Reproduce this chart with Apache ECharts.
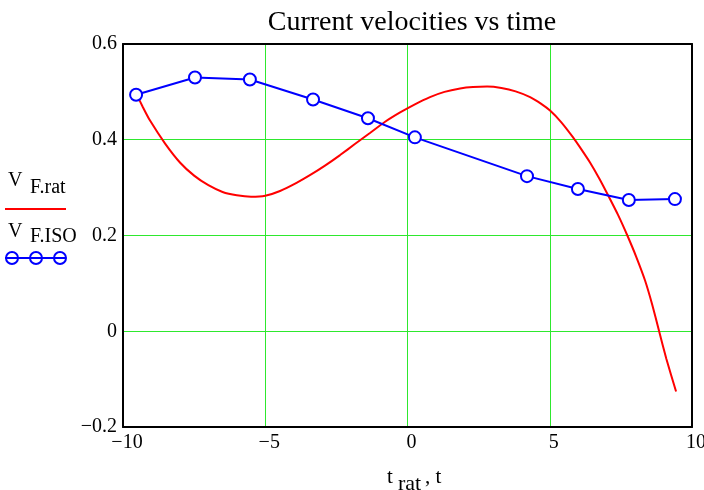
<!DOCTYPE html>
<html>
<head>
<meta charset="utf-8">
<script src="https://cdn.jsdelivr.net/npm/echarts@6/dist/echarts.min.js"></script>
<style>
  html, body { margin: 0; padding: 0; background: #fff; }
  #chart { width: 704px; height: 490px; }
</style>
</head>
<body>
<div id="chart"></div>
<script>
// V F.rat  (red curve)
var ratT = [-9.54, -9.3, -9.05, -8.52, -7.99, -7.5, -7.0, -6.5, -6.0, -5.5, -5.0, -4.48, -3.9, -3.43,
            -2.9, -2.37, -1.85, -1.32, -0.8, -0.26, 0.26, 0.79, 1.3, 1.85, 2.3, 2.8, 3.3, 3.8, 4.31,
            4.7, 5.01, 5.4, 5.82, 6.1, 6.41, 6.75, 7.05, 7.4, 7.72, 8.05, 8.35, 8.6, 8.84, 9.1, 9.44];
var ratV = [0.497, 0.468, 0.440, 0.392, 0.352, 0.325, 0.305, 0.291, 0.284, 0.281, 0.283, 0.293, 0.310, 0.326,
            0.346, 0.368, 0.391, 0.414, 0.437, 0.457, 0.474, 0.489, 0.500, 0.507, 0.510, 0.511, 0.508, 0.501, 0.489,
            0.475, 0.461, 0.437, 0.405, 0.381, 0.353, 0.318, 0.284, 0.243, 0.201, 0.154, 0.106, 0.056, 0.001, -0.058, -0.126];
// V F.ISO  (blue, circles)
var isoT = [-9.54, -7.47, -5.54, -3.32, -1.39, 0.26, 4.20, 5.99, 7.78, 9.40];
var isoV = [0.494, 0.530, 0.526, 0.484, 0.445, 0.405, 0.324, 0.297, 0.274, 0.276];

var xTicks = [-10, -5, 0, 5, 10];
var yTicks = [-0.2, 0, 0.2, 0.4, 0.6];

function pairs(xs, ys) {
    return xs.map(function (x, i) { return [x, ys[i]]; });
}
function minus(v) {
    return String(v).replace('-', '\u2212');
}

var serif = 'Liberation Serif, Times New Roman, serif';
var gridGreen = '#2ee82e';
var frame = { show: true, onZero: false, lineStyle: { color: '#000', width: 2 } };

var chart = echarts.init(document.getElementById('chart'));
var option = {
    animation: false,
    backgroundColor: '#fff',
    textStyle: { fontFamily: serif },
    title: {
        text: 'Current velocities vs time',
        left: 407, top: 4,
        textAlign: 'center',
        textStyle: { fontFamily: serif, fontSize: 28, fontWeight: 'normal', color: '#000' }
    },
    grid: { left: 123, right: 12, top: 44, bottom: 63, outerBoundsMode: 'none', containLabel: false },
    xAxis: [{
        type: 'value', min: xTicks[0], max: xTicks[xTicks.length - 1], interval: 5,
        axisLine: frame,
        axisTick: { show: false },
        splitLine: { show: true, lineStyle: { color: gridGreen, width: 1 } },
        axisLabel: {
            color: '#000', fontSize: 20, fontFamily: serif, margin: 6, padding: [0, 0, 0, 8],
            hideOverlap: false,
            formatter: function (v) { return minus(v); }
        }
    }, {
        type: 'value', position: 'top', min: xTicks[0], max: xTicks[xTicks.length - 1], interval: 5,
        axisLine: frame, axisTick: { show: false }, axisLabel: { show: false }, splitLine: { show: false }
    }],
    yAxis: [{
        type: 'value', min: yTicks[0], max: yTicks[yTicks.length - 1], interval: 0.2,
        axisLine: frame,
        axisTick: { show: false },
        splitLine: { show: true, lineStyle: { color: gridGreen, width: 1 } },
        axisLabel: {
            color: '#000', fontSize: 20, fontFamily: serif, margin: 6, padding: [8, 0, 0, 0],
            formatter: function (v) { return minus(+v.toFixed(1)); }
        }
    }, {
        type: 'value', position: 'right', min: yTicks[0], max: yTicks[yTicks.length - 1], interval: 0.2,
        axisLine: frame, axisTick: { show: false }, axisLabel: { show: false }, splitLine: { show: false }
    }],
    series: [
        {
            name: 'V F.ISO', type: 'line',
            data: pairs(isoT, isoV),
            symbol: 'emptyCircle', symbolSize: 12,
            lineStyle: { color: '#0000ff', width: 2 },
            itemStyle: { color: '#0000ff', borderWidth: 2 },
            z: 3
        },
        {
            name: 'V F.rat', type: 'line',
            data: pairs(ratT, ratV),
            smooth: 0.15, showSymbol: false,
            lineStyle: { color: '#ff0000', width: 2 },
            z: 2
        }
    ],
    graphic: [
        // x axis title  t rat , t
        { type: 'text', left: 387, top: 467, style: { text: 't', font: '21px ' + serif, fill: '#000' } },
        { type: 'text', left: 398, top: 473, style: { text: 'rat', font: '22px ' + serif, fill: '#000' } },
        { type: 'text', left: 425, top: 467, style: { text: ', t', font: '21px ' + serif, fill: '#000' } },
        // legend V F.rat
        { type: 'text', left: 8, top: 171, style: { text: 'V', font: '20px ' + serif, fill: '#000' } },
        { type: 'text', left: 30, top: 178, style: { text: 'F.rat', font: '20px ' + serif, fill: '#000' } },
        { type: 'line', shape: { x1: 5, y1: 209, x2: 66, y2: 209 }, style: { stroke: '#ff0000', lineWidth: 2 } },
        // legend V F.ISO
        { type: 'text', left: 8, top: 222, style: { text: 'V', font: '20px ' + serif, fill: '#000' } },
        { type: 'text', left: 30, top: 227, style: { text: 'F.ISO', font: '20px ' + serif, fill: '#000' } },
        { type: 'line', shape: { x1: 5, y1: 258, x2: 66, y2: 258 }, style: { stroke: '#0000ff', lineWidth: 2 } },
        { type: 'circle', shape: { cx: 12, cy: 258, r: 6 }, style: { stroke: '#0000ff', fill: 'none', lineWidth: 2 } },
        { type: 'circle', shape: { cx: 36, cy: 258, r: 6 }, style: { stroke: '#0000ff', fill: 'none', lineWidth: 2 } },
        { type: 'circle', shape: { cx: 60, cy: 258, r: 6 }, style: { stroke: '#0000ff', fill: 'none', lineWidth: 2 } }
    ]
};
chart.setOption(option);
</script>
</body>
</html>
